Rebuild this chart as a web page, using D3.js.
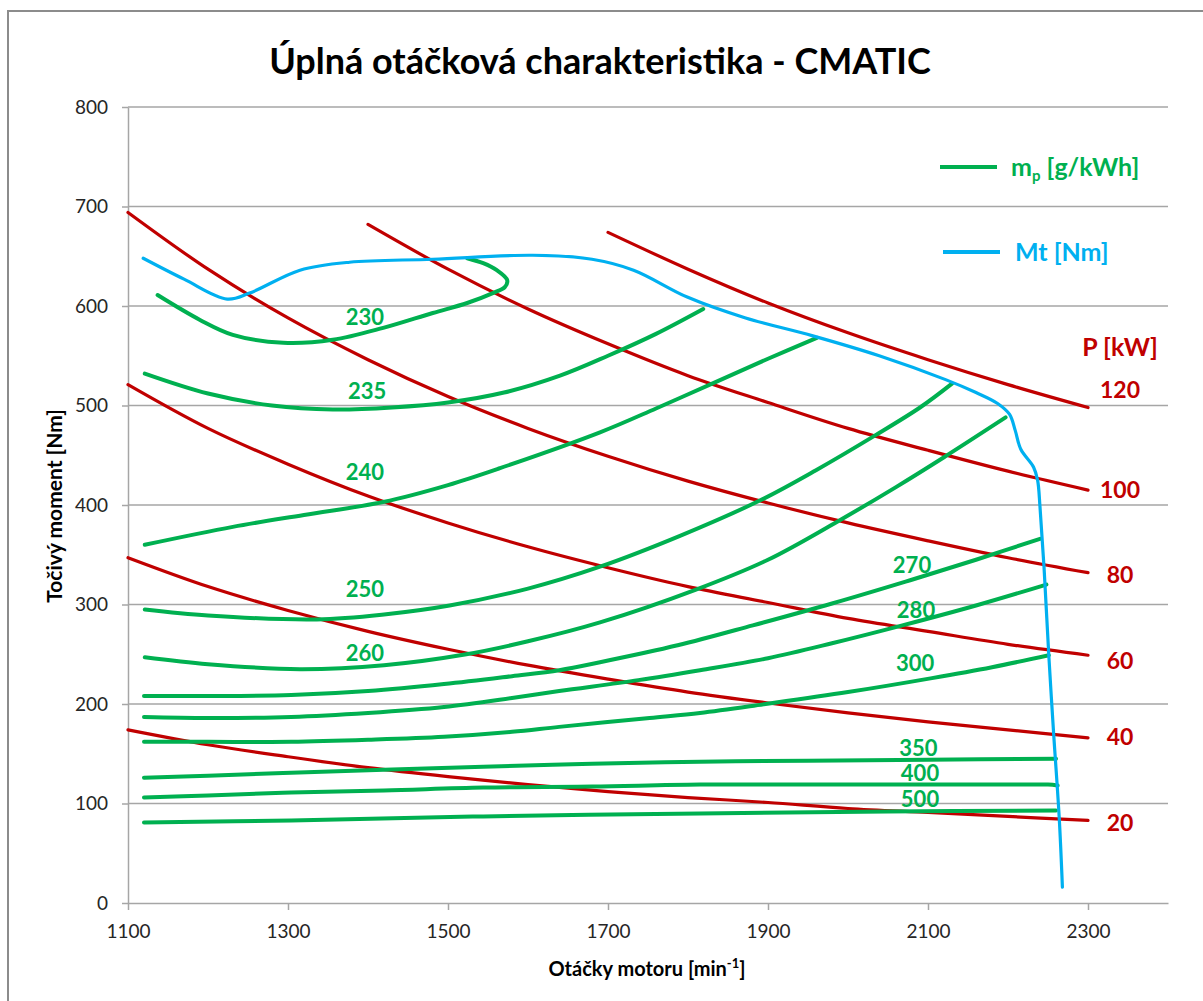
<!DOCTYPE html>
<html><head><meta charset="utf-8">
<script src="https://cdn.jsdelivr.net/npm/d3@7"></script>
<style>body{margin:0;background:#fff} svg{display:block}</style>
</head><body>
<svg id="c" width="1203" height="1001"></svg>
<script>
// ---------- data ----------
const titleText = "Úplná otáčková charakteristika - CMATIC";
const xTicks = [1100, 1300, 1500, 1700, 1900, 2100, 2300];
const yTicks = [0, 100, 200, 300, 400, 500, 600, 700, 800];

// Torque curve Mt [Nm] vs engine speed [min-1]
const torqueMt = [[1119,648],[1170,627],[1224,607],[1252,613],[1315,636],[1377,644],[1481,647],[1606,651],[1680,647],[1732,636],[1799,609],[1872,588],[1956,570],[2039,550],[2122,526],[2160,513],[2187,502],[2202,491],[2209,475],[2216,456],[2232,438],[2237,425],[2240,398],[2245,338],[2251,249],[2257,171],[2264,86],[2268,16]];

// Constant power lines P [kW]
const powerNames = ["20","40","60","80","100","120"];
const power20  = [[1100,174],[1200,159],[1300,147],[1400,136],[1500,127],[1600,119],[1700,112],[1800,106],[1900,101],[2000,95],[2100,91],[2200,87],[2300,83]];
const power40  = [[1100,347],[1200,318],[1300,294],[1400,273],[1500,255],[1600,239],[1700,225],[1800,212],[1900,201],[2000,191],[2100,182],[2200,174],[2300,166]];
const power60  = [[1100,521],[1200,477],[1300,441],[1400,409],[1500,382],[1600,358],[1700,337],[1800,318],[1900,302],[2000,286],[2100,273],[2200,260],[2300,249]];
const power80  = [[1100,694],[1200,637],[1300,588],[1400,546],[1500,509],[1600,477],[1700,449],[1800,424],[1900,402],[2000,382],[2100,364],[2200,347],[2300,332]];
const power100 = [[1400,682],[1500,637],[1600,597],[1700,562],[1800,530],[1900,503],[2000,477],[2100,455],[2200,434],[2300,415]];
const power120 = [[1700,674],[1800,637],[1900,603],[2000,573],[2100,546],[2200,521],[2300,498]];
const powerLabelAt = [81, 167, 244, 330, 415, 516];   // Nm level of each label
const powerLabelRpm = 2340;

// Specific fuel consumption m_p [g/kWh] iso-lines
const bsfcNames = ["230","235","240","250","260","270","280","300","350","400","500"];
const bsfc230 = [[1137,611],[1190,586],[1231,571],[1294,563],[1356,566],[1419,578],[1481,593],[1524,603],[1556,613],[1571,619],[1574,626],[1561,636],[1544,643],[1524,648]];
const bsfc235 = [[1121,532],[1200,512],[1280,500],[1356,496],[1430,498],[1500,503],[1570,513],[1640,530],[1700,550],[1760,572],[1819,597]];
const bsfc240 = [[1121,360],[1231,378],[1320,390],[1419,403],[1500,420],[1565,437],[1690,473],[1760,497],[1833,523],[1900,547],[1961,568]];
const bsfc250 = [[1121,295],[1200,289],[1336,285],[1420,290],[1502,299],[1600,316],[1690,338],[1790,369],[1891,405],[1960,435],[2034,470],[2090,498],[2130,522]];
const bsfc260 = [[1121,247],[1200,240],[1315,235],[1420,239],[1523,250],[1600,263],[1690,282],[1810,315],[1900,345],[1986,383],[2060,418],[2120,448],[2197,488]];
const bsfc270 = [[1120,208],[1200,208],[1304,209],[1400,213],[1495,220],[1580,228],[1639,234],[1690,242],[1787,259],[1881,279],[1980,301],[2072,323],[2160,345],[2240,366]];
const bsfc280 = [[1120,187],[1200,186],[1304,187],[1400,191],[1495,197],[1580,206],[1639,213],[1738,224],[1815,234],[1900,246],[1980,261],[2068,279],[2160,299],[2248,320]];
const bsfc300 = [[1120,162],[1200,162],[1304,162],[1400,164],[1495,167],[1580,172],[1639,177],[1752,186],[1815,191],[1897,200],[2000,212],[2105,226],[2180,237],[2251,249]];
const bsfc350 = [[1120,126],[1200,128],[1304,131],[1420,134],[1544,137],[1680,140],[1815,142],[1950,143],[2100,144],[2260,145]];
const bsfc400 = [[1120,106],[1200,108],[1304,111],[1420,113],[1544,116],[1680,117],[1815,119],[2000,119],[2200,119],[2250,119],[2262,118]];
const bsfc500 = [[1120,81],[1304,83],[1544,87],[1815,90],[2050,92],[2260,93]];
const bsfcLabelAt = [[1396,589],[1399,514],[1396,433],[1396,315],[1396,251],[2080,340],[2085,294],[2084,241],[2088,156],[2090,131],[2090,104]];

// ---------- drawing ----------
const GREEN = "#00B050", RED = "#C00000", BLUE = "#00B0F0", GRID = "#A6A6A6";
const FONT = "Lato, 'Noto Sans', sans-serif";
const svg = d3.select("#c");

svg.append("rect").attr("x", 8).attr("y", 11).attr("width", 1210).attr("height", 1010)
  .attr("fill", "#fff").attr("stroke", "#8c8c8c").attr("stroke-width", 2);

const x = d3.scaleLinear().domain([1100, 2400]).range([128, 1168]);
const y = d3.scaleLinear().domain([0, 800]).range([903, 107]);

// gridlines
svg.append("g").selectAll("line").data(yTicks.filter(d => d > 0)).join("line")
  .attr("x1", x(1100)).attr("x2", x(2400))
  .attr("y1", d => y(d)).attr("y2", d => y(d))
  .attr("stroke", GRID).attr("stroke-width", 1.3);

// axes
const gx = svg.append("g").attr("transform", `translate(0,${y(0)})`)
  .call(d3.axisBottom(x).tickValues(xTicks).tickFormat(d3.format("d")).tickSize(7).tickSizeOuter(0).tickPadding(15));
const gy = svg.append("g").attr("transform", `translate(${x(1100)},0)`)
  .call(d3.axisLeft(y).tickValues(yTicks).tickFormat(d3.format("d")).tickSize(6).tickSizeOuter(0).tickPadding(14));
[gx, gy].forEach(g => {
  g.select(".domain").attr("stroke", GRID).attr("stroke-width", 1.5);
  g.selectAll(".tick line").attr("stroke", GRID).attr("stroke-width", 1.5);
  g.selectAll(".tick text").attr("font-family", FONT).attr("font-size", 19).attr("fill", "#262626");
});

const line = d3.line().x(d => x(d[0])).y(d => y(d[1])).curve(d3.curveCatmullRom.alpha(0.5));

// power lines
const powerSeries = [power20, power40, power60, power80, power100, power120];
svg.append("g").selectAll("path").data(powerSeries).join("path")
  .attr("d", line).attr("fill", "none").attr("stroke", RED).attr("stroke-width", 3.2).attr("stroke-linecap", "round");

// bsfc lines
const bsfcSeries = [bsfc230, bsfc235, bsfc240, bsfc250, bsfc260, bsfc270, bsfc280, bsfc300, bsfc350, bsfc400, bsfc500];
svg.append("g").selectAll("path").data(bsfcSeries).join("path")
  .attr("d", line).attr("fill", "none").attr("stroke", GREEN).attr("stroke-width", 4).attr("stroke-linecap", "round");

// torque
svg.append("path").datum(torqueMt).attr("d", line).attr("fill", "none")
  .attr("stroke", BLUE).attr("stroke-width", 3.2).attr("stroke-linecap", "round").attr("stroke-linejoin", "round");

// bsfc labels
svg.append("g").selectAll("text").data(bsfcNames).join("text")
  .attr("x", (d, i) => x(bsfcLabelAt[i][0])).attr("y", (d, i) => y(bsfcLabelAt[i][1]))
  .attr("dy", "0.36em").attr("text-anchor", "middle")
  .attr("font-family", FONT).attr("font-weight", 700).attr("font-size", 22).attr("fill", GREEN)
  .text(d => d);

// power labels
svg.append("g").selectAll("text").data(powerNames).join("text")
  .attr("x", x(powerLabelRpm)).attr("y", (d, i) => y(powerLabelAt[i]))
  .attr("dy", "0.36em").attr("text-anchor", "middle")
  .attr("font-family", FONT).attr("font-weight", 700).attr("font-size", 23).attr("fill", RED)
  .text(d => d);
svg.append("text").attr("x", x(powerLabelRpm)).attr("y", y(559)).attr("dy", "0.36em")
  .attr("text-anchor", "middle").attr("font-family", FONT).attr("font-weight", 700)
  .attr("font-size", 25).attr("fill", RED).text("P [kW]");

// legend
svg.append("line").attr("x1", 940).attr("x2", 997).attr("y1", 167).attr("y2", 167)
  .attr("stroke", GREEN).attr("stroke-width", 4);
const lt1 = svg.append("text").attr("x", 1011).attr("y", 176)
  .attr("font-family", FONT).attr("font-weight", 700).attr("font-size", 25).attr("fill", GREEN);
lt1.append("tspan").text("m");
lt1.append("tspan").attr("dy", 5).attr("font-size", 15).text("p");
lt1.append("tspan").attr("dy", -5).text(" [g/kWh]");
svg.append("line").attr("x1", 943).attr("x2", 1000).attr("y1", 252).attr("y2", 252)
  .attr("stroke", BLUE).attr("stroke-width", 4);
svg.append("text").attr("x", 1015).attr("y", 261)
  .attr("font-family", FONT).attr("font-weight", 700).attr("font-size", 25).attr("fill", BLUE)
  .text("Mt [Nm]");

// titles
svg.append("text").attr("x", 600).attr("y", 74).attr("text-anchor", "middle")
  .attr("font-family", FONT).attr("font-weight", 700).attr("font-size", 36).attr("fill", "#000")
  .text(titleText);
svg.append("text").attr("transform", "translate(54,506) rotate(-90)").attr("text-anchor", "middle")
  .attr("dy", "0.36em").attr("font-family", FONT).attr("font-weight", 700).attr("font-size", 21)
  .attr("fill", "#000").text("Točivý moment [Nm]");
const xt = svg.append("text").attr("x", 647).attr("y", 976).attr("text-anchor", "middle")
  .attr("font-family", FONT).attr("font-weight", 700).attr("font-size", 20).attr("fill", "#000");
xt.append("tspan").text("Otáčky motoru [min");
xt.append("tspan").attr("dy", -8).attr("font-size", 13).text("-1");
xt.append("tspan").attr("dy", 8).text("]");
</script>
</body></html>
